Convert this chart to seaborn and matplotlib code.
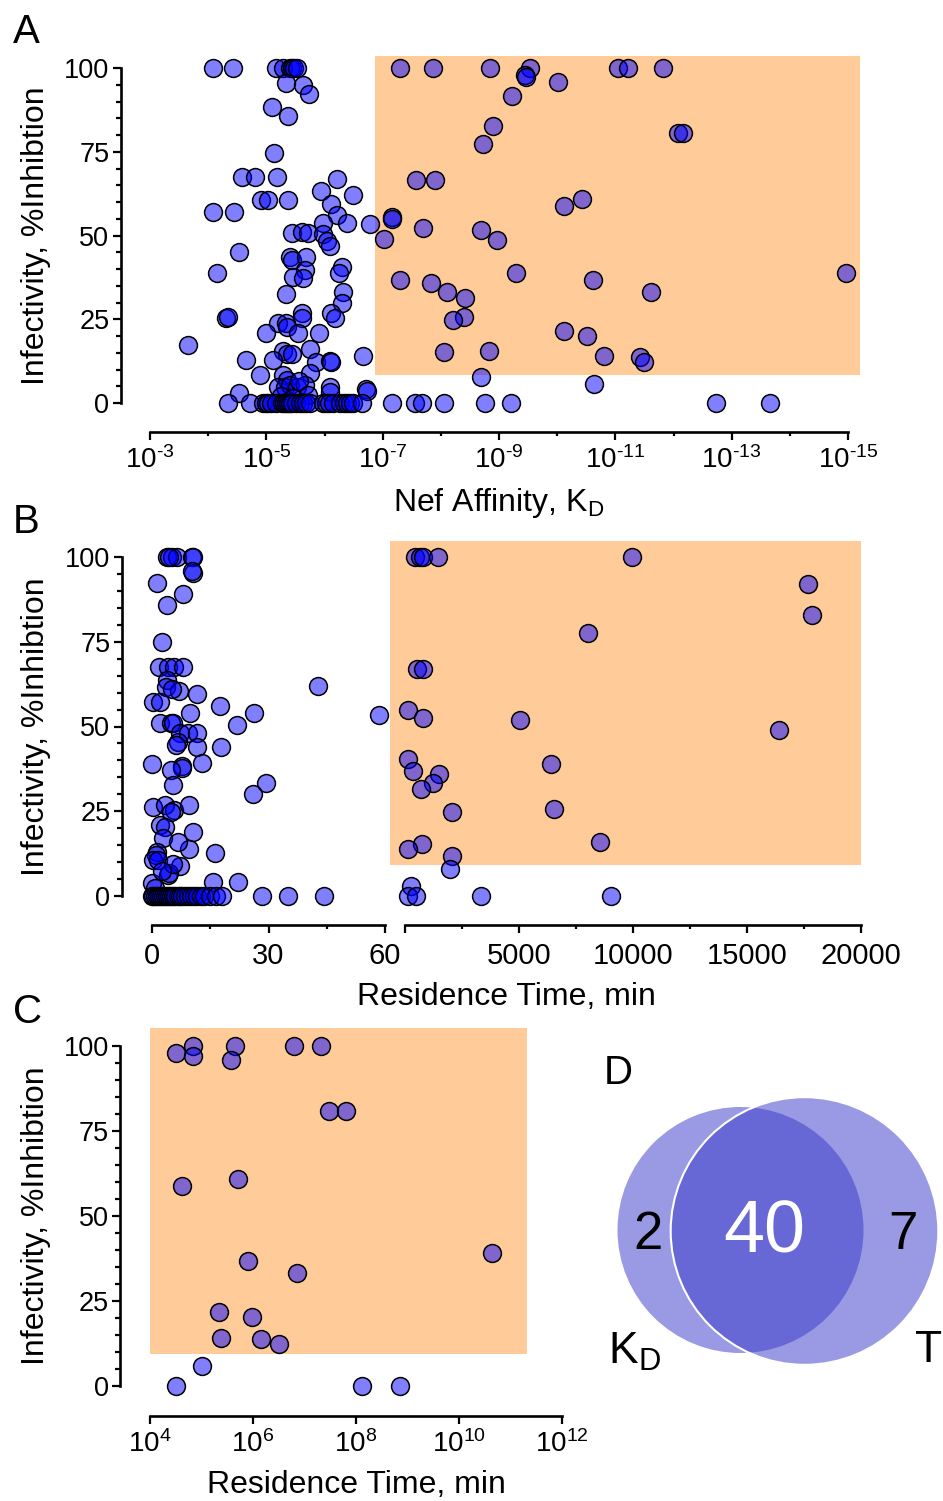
import numpy as np
import pandas as pd
import matplotlib
matplotlib.use('Agg')
import matplotlib.pyplot as plt
import seaborn as sns
from matplotlib.patches import Rectangle, Circle
from matplotlib.ticker import FixedLocator, NullFormatter

# ---------------- data ----------------
# Panel A: log10(KD) and % inhibition
a_log_kd = [-4.09, -4.43, -5.17, -5.29, -5.40, -5.44, -5.47, -5.52,
            -5.34, -5.63, -5.73, -5.10, -5.37, -5.13,
            -4.58, -4.81, -5.18, -6.21, -5.94, -6.49,
            -4.91, -5.03, -5.37, -6.12, -4.09, -4.44, -6.21,
            -5.97, -6.39, -6.78, -7.16, -7.16,
            -5.44, -5.61, -5.72, -5.98, -6.04, -6.09,
            -4.53, -5.41, -5.44, -5.68, -5.66, -6.30, -6.25, -4.15,
            -5.46, -5.63, -6.32, -5.34, -6.30, -6.11, -5.61,
            -4.31, -4.34, -5.61, -6.18, -5.20, -5.34, -5.36,
            -4.99, -5.54, -5.91, -3.65, -5.29, -5.36, -5.44, -5.75, -6.66,
            -4.65, -5.11, -5.85, -6.09, -6.12, -4.89, -5.29, -5.36, -5.75,
            -5.20, -5.32, -5.41, -5.53, -5.66, -6.09, -6.71, -6.73, -4.53, -6.09,
            -5.25, -5.45, -5.57, -5.72,
            -4.34, -4.72, -4.94, -4.99, -5.03, -5.08, -5.17, -5.27, -5.30, -5.34,
            -5.37, -5.41, -5.44, -5.51, -5.58, -5.63, -5.68, -5.75, -5.97, -6.03,
            -6.08, -6.15, -6.27, -6.34, -6.39, -6.44, -6.49, -6.64, -7.16, -7.56,
            -7.67, -8.06, -8.76, -9.20, -12.73, -13.66,
            -7.30, -7.87, -8.85, -9.53, -11.05, -11.21, -11.82,
            -9.45, -9.46, -10.02, -9.23, -8.90, -12.08, -12.17, -8.73, -7.57, -7.90,
            -10.42, -10.12, -7.70, -8.69, -7.03, -8.97, -9.29, -14.97, -7.29, -10.62,
            -7.83, -8.11, -11.61, -8.42, -8.40, -8.21, -10.11, -10.51, -8.82, -8.06,
            -10.80, -11.42, -11.49, -8.69, -10.63]
a_inhib = [100, 100, 100, 100, 100, 100, 100, 100,
           95.4, 95.0, 92.2, 88.4, 85.7, 74.7,
           67.4, 67.4, 67.4, 67.0, 63.4, 62.0,
           60.6, 60.6, 60.6, 59.4, 57.1, 57.0, 56.1,
           53.8, 53.8, 53.3, 55.6, 54.8,
           50.6, 50.9, 50.6, 50.3, 48.4, 46.8,
           45.2, 43.7, 42.6, 43.7, 39.7, 40.6, 38.8, 38.9,
           37.7, 37.3, 33.2, 32.5, 30.0, 27.0, 27.0,
           25.3, 25.6, 25.3, 25.3, 23.9, 23.9, 22.8,
           20.8, 20.9, 20.9, 17.3, 15.5, 14.5, 14.7, 16.0, 14.0,
           12.8, 12.8, 12.2, 12.5, 12.2, 8.4, 8.4, 7.0, 9.0,
           4.9, 4.9, 5.5, 4.9, 5.5, 4.9, 4.3, 3.5, 3.1, 3.3,
           2.0, 1.5, 6.5, 2.5,
           0, 0, 0, 0, 0, 0, 0, 0, 0, 0,
           0, 0, 0, 0, 0, 0, 0, 0, 0, 0,
           0, 0, 0, 0, 0, 0, 0, 0, 0, 0,
           0, 0, 0, 0, 0, 0,
           100, 100, 100, 100, 100, 100, 100,
           97.9, 97.3, 95.7, 91.7, 82.7, 80.7, 80.7, 77.2, 66.6, 66.6,
           60.8, 58.8, 52.3, 51.6, 48.9, 48.7, 38.7, 38.7, 36.7, 36.7,
           35.7, 33.2, 33.0, 31.2, 25.8, 24.8, 21.6, 20.0, 15.6, 15.1,
           14.0, 13.8, 12.2, 7.9, 5.6]

# Panel B: residence time (min) below 60 min
b_short_time = [3.8, 5.1, 6.4, 10.2, 10.6, 4.5,
                10.6, 10.4, 1.4, 8.1, 3.8, 2.5,
                1.9, 4.2, 5.7, 8.1, 3.8, 3.6, 7.0, 5.2, 42.7, 11.5,
                0.3, 2.1, 17.5, 26.3, 9.8, 58.5, 2.1, 4.8, 5.5, 21.8,
                7.2, 9.3, 11.5, 6.6, 6.3, 11.5, 17.7,
                0.0, 7.6, 7.6, 12.8, 4.8, 5.5, 29.3, 25.9,
                0.3, 3.3, 5.7, 9.6, 5.0, 2.1, 3.3, 10.6,
                2.9, 9.6, 6.8, 1.3, 1.0, 16.2,
                0.3, 1.6, 7.2, 4.1, 4.4, 0.0, 15.8, 22.2, 0.8, 5.5, 2.5,
                0.0, 0.3, 0.8, 1.3, 1.8, 2.3, 2.8, 3.3, 3.9, 4.4, 5.0, 5.5, 6.0, 6.6,
                7.2, 7.8, 8.5, 9.2, 10.0, 10.8, 11.6, 12.5, 13.5, 15.0, 16.5, 17.9,
                28.4, 35.1, 44.4]
b_short_inhib = [100, 100, 100, 100, 100, 100,
                 95.2, 95.8, 92.2, 89.1, 85.8, 74.8,
                 67.5, 67.5, 67.5, 67.5, 63.7, 61.7, 60.6, 61.0, 61.9, 59.5,
                 57.3, 57.3, 56.1, 53.9, 53.9, 53.4, 50.9, 50.9, 50.9, 50.4,
                 48.1, 48.1, 48.1, 45.4, 44.5, 44.0, 44.0,
                 38.9, 38.3, 37.8, 39.2, 37.2, 32.7, 33.2, 30.0,
                 26.2, 26.8, 25.4, 26.8, 24.8, 21.0, 20.4, 19.0,
                 17.0, 13.8, 15.9, 13.0, 12.2, 12.6,
                 10.6, 10.6, 8.8, 6.2, 6.8, 3.8, 4.1, 4.2, 2.5, 9.5, 7.5,
                 0, 0, 0, 0, 0, 0, 0, 0, 0, 0, 0, 0, 0, 0,
                 0, 0, 0, 0, 0, 0, 0, 0, 0, 0, 0, 0,
                 0, 0, 0]
# Panel B: residence time (min) beyond the axis break
b_long_time = [440, 660, 780, 1460, 9940, 17660, 17870, 8010, 510, 800,
               120, 780, 5040, 16390, 120, 370, 1490, 1210, 690, 6400,
               6550, 2080, 8550, 760, 120, 2080, 1970, 250, 120, 480, 3320, 9020]
b_long_inhib = [100, 100, 100, 100, 100, 91.9, 82.9, 77.5, 66.9, 66.9,
                54.9, 52.4, 51.8, 49.0, 40.4, 37.0, 35.9, 33.2, 31.5, 38.8,
                25.8, 24.8, 15.8, 15.2, 13.9, 11.9, 7.9, 2.9, 0, 0, 0, 0]

# Panel C: log10 residence time (min)
c_log_time = [4.84, 5.66, 6.80, 7.33, 4.50, 4.84, 5.57, 7.48, 7.81, 5.70, 4.63,
              10.65, 5.90, 6.86, 5.34, 5.99, 5.38, 6.16, 6.51, 5.00, 4.50, 8.12, 8.85]
c_inhib = [100, 100, 100, 100, 97.9, 97.1, 95.9, 80.9, 80.9, 60.8, 58.9,
           39.0, 36.9, 33.3, 21.9, 20.2, 14.2, 13.7, 12.3, 5.9, 0, 0, 0]

# Panel D: Venn counts (KD only, both, T only)
venn_counts = [2, 40, 7]
venn_labels = ['K$_{D}$', 'T']

# highlight regions
a_region = (10**-6.87, 10**-15.2, 8.4, 103.6)
b_region = (-658, 20000, 9.1, 104.7)
c_region = (10**4.0, 10**11.33, 9.4, 105.4)

# ---------------- style ----------------
sns.set_theme(style='ticks')
plt.rcParams['font.family'] = ['Liberation Sans', 'DejaVu Sans']
plt.rcParams['mathtext.fontset'] = 'custom'
plt.rcParams['mathtext.rm'] = 'Liberation Sans'
plt.rcParams['mathtext.it'] = 'Liberation Sans:italic'
plt.rcParams['mathtext.bf'] = 'Liberation Sans:bold'
plt.rcParams['mathtext.default'] = 'regular'
for k in ['text.color', 'axes.labelcolor', 'xtick.color', 'ytick.color',
          'axes.edgecolor', 'xtick.labelcolor', 'ytick.labelcolor']:
    plt.rcParams[k] = 'black'

W, H = 943, 1501
PT = 0.72
fig = plt.figure(figsize=(W / 100, H / 100), dpi=100)
fig.patch.set_facecolor('white')

ORANGE = '#FFCC99'
DOT_FACE = (0, 0, 1, 0.5)


def box(x0, x1, y0, y1):
    return [x0 / W, 1 - y1 / H, (x1 - x0) / W, (y1 - y0) / H]


def fxy(x, y):
    return x / W, 1 - y / H


def pow10(e):
    if e < 0:
        return r'$10^{\text{-}%d}$' % (-e)
    return r'$10^{%d}$' % e


def style_axes(ax, left_off, bottom_off, show_left=True, xlab=20, xpad=6):
    ax.set_facecolor('none')
    for s in ['top', 'right']:
        ax.spines[s].set_visible(False)
    ax.spines['bottom'].set_position(('outward', bottom_off * PT))
    ax.spines['bottom'].set_linewidth(1.9)
    ax.spines['bottom'].set_color('black')
    ax.set_ylim(0, 100)
    if show_left:
        ax.spines['left'].set_position(('outward', left_off * PT))
        ax.spines['left'].set_linewidth(1.9)
        ax.spines['left'].set_color('black')
        ax.yaxis.set_major_locator(FixedLocator([0, 25, 50, 75, 100]))
        ax.yaxis.set_minor_locator(FixedLocator([v for v in range(5, 100, 5) if v % 25]))
        ax.tick_params(axis='y', which='major', length=6, width=1.6, labelsize=19.5,
                       pad=2, colors='black')
        ax.tick_params(axis='y', which='minor', length=3.3, width=1.6, colors='black')
    else:
        ax.spines['left'].set_visible(False)
        ax.tick_params(axis='y', which='both', left=False, labelleft=False)
    ax.tick_params(axis='x', which='major', length=5.5, width=1.6, labelsize=xlab,
                   pad=xpad, colors='black')
    ax.tick_params(axis='x', which='minor', length=3.2, width=1.6, colors='black')
    ax.set_xlabel('')
    ax.set_ylabel('')


def dots(ax, x, y):
    sns.scatterplot(x=x, y=y, ax=ax, s=165, color='blue', edgecolor='black',
                    linewidth=1.1, zorder=3, clip_on=False, legend=False)
    coll = ax.collections[-1]
    coll.set_alpha(None)
    coll.set_facecolor(DOT_FACE)
    coll.set_edgecolor((0, 0, 0, 1))


def region(ax, r):
    x0, x1, y0, y1 = r
    ax.add_patch(Rectangle((x0, y0), x1 - x0, y1 - y0, facecolor=ORANGE,
                           edgecolor='none', zorder=1, clip_on=False))


# ---------------- Panel A ----------------
axA = fig.add_axes(box(150, 848, 68, 403))
a_kd = [10.0 ** e for e in a_log_kd]
region(axA, a_region)
dots(axA, a_kd, a_inhib)
axA.set_xscale('log')
axA.set_xlim(1e-3, 1e-15)
style_axes(axA, 29.5, 29, xlab=20, xpad=5)
axA.xaxis.set_major_locator(FixedLocator([10.0 ** e for e in range(-3, -16, -2)]))
axA.set_xticklabels([pow10(e) for e in range(-3, -16, -2)])
axA.xaxis.set_minor_locator(FixedLocator([10.0 ** e for e in range(-4, -15, -2)]))
axA.xaxis.set_minor_formatter(NullFormatter())
axA.set_ylim(0, 100)

# ---------------- Panel B ----------------
axB1 = fig.add_axes(box(152, 385, 557, 896))
dots(axB1, b_short_time, b_short_inhib)
axB1.set_xlim(0, 60)
style_axes(axB1, 30.5, 29, xlab=21, xpad=7)
axB1.xaxis.set_major_locator(FixedLocator([0, 30, 60]))
axB1.xaxis.set_minor_locator(FixedLocator([15, 45]))
axB1.set_ylim(0, 100)

axB2 = fig.add_axes(box(405, 861, 557, 896))
region(axB2, b_region)
dots(axB2, b_long_time, b_long_inhib)
axB2.set_xlim(0, 20000)
style_axes(axB2, 0, 29, show_left=False, xlab=21, xpad=7)
axB2.xaxis.set_major_locator(FixedLocator([0, 5000, 10000, 15000, 20000]))
axB2.set_xticklabels(['', '5000', '10000', '15000', '20000'])
axB2.xaxis.set_minor_locator(FixedLocator([2500, 7500, 12500, 17500]))
axB2.set_ylim(0, 100)

# ---------------- Panel C ----------------
axC = fig.add_axes(box(150, 562, 1046, 1386))
c_time = [10.0 ** e for e in c_log_time]
region(axC, c_region)
dots(axC, c_time, c_inhib)
axC.set_xscale('log')
axC.set_xlim(1e4, 1e12)
style_axes(axC, 30, 30, xlab=20, xpad=5)
axC.xaxis.set_major_locator(FixedLocator([10.0 ** e for e in range(4, 13, 2)]))
axC.set_xticklabels([pow10(e) for e in range(4, 13, 2)])
axC.xaxis.set_minor_locator(FixedLocator([]))
axC.set_ylim(0, 100)

# ---------------- axis titles ----------------
ylab = 'Infectivity, %Inhibtion'
for yc in (235.5, 726.5, 1216):
    fig.text(*fxy(36, yc), ylab, rotation=90, ha='center', va='center',
             fontsize=23, color='black')
fig.text(*fxy(499, 503), 'Nef Affinity, K$_{D}$', ha='center', va='center',
         fontsize=23, color='black')
fig.text(*fxy(506, 997), 'Residence Time, min', ha='center', va='center',
         fontsize=23, color='black')
fig.text(*fxy(356, 1485), 'Residence Time, min', ha='center', va='center',
         fontsize=23, color='black')

for lab, (x, y) in zip('ABCD', [(26, 32), (26, 522), (28, 1012), (618, 1073)]):
    fig.text(*fxy(x, y), lab, ha='center', va='center', fontsize=29, color='black')

# ---------------- Panel D: Venn ----------------
axD = fig.add_axes(box(590, 943, 1050, 1400))
axD.set_xlim(590, 943)
axD.set_ylim(1400, 1050)
axD.axis('off')
kd_total = venn_counts[0] + venn_counts[1]
t_total = venn_counts[1] + venn_counts[2]
r_kd = 123.0
r_t = r_kd * (t_total / kd_total) ** 0.75
venn_col = (55 / 255, 55 / 255, 202 / 255)
axD.add_patch(Circle((740.5, 1230), r_kd, facecolor=venn_col, alpha=0.51,
                     edgecolor='none', zorder=1))
axD.add_patch(Circle((804.5, 1231), r_t, facecolor=venn_col, alpha=0.51,
                     edgecolor='none', zorder=2))
axD.add_patch(Circle((804.5, 1231), r_t, facecolor='none', edgecolor='white',
                     linewidth=1.5, zorder=3))
axD.text(647.5, 1235, str(venn_counts[0]), ha='center', va='center', fontsize=38,
         color='black', zorder=5)
axD.text(764, 1233, str(venn_counts[1]), ha='center', va='center', fontsize=53,
         color='white', zorder=5)
axD.text(903, 1235, str(venn_counts[2]), ha='center', va='center', fontsize=38,
         color='black', zorder=5)
fig.text(*fxy(634, 1352), venn_labels[0], ha='center', va='center', fontsize=32,
         color='black')
fig.text(*fxy(929, 1350), venn_labels[1], ha='center', va='center', fontsize=32,
         color='black')

fig.savefig('out.png', dpi=100, facecolor='white')
